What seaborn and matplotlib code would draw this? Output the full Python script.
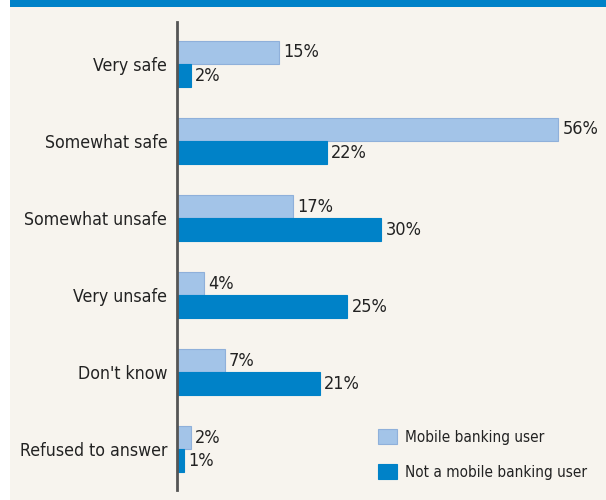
import matplotlib
matplotlib.use("Agg")
import matplotlib.pyplot as plt
from matplotlib.patches import Rectangle
import seaborn as sns
import pandas as pd

categories = ["Very safe", "Somewhat safe", "Somewhat unsafe", "Very unsafe",
              "Don't know", "Refused to answer"]
mobile_users = [15, 56, 17, 4, 7, 2]
non_users = [2, 22, 30, 25, 21, 1]
series_names = ["Mobile banking user", "Not a mobile banking user"]

df = pd.DataFrame({
    "category": categories * 2,
    "value": mobile_users + non_users,
    "series": [series_names[0]] * len(categories) + [series_names[1]] * len(categories),
})

sns.set_style("white")
plt.rcParams["font.family"] = ["DejaVu Sans"]
plt.rcParams["font.stretch"] = "condensed"

BG = "#f7f4ee"
LIGHT = "#a3c4e8"
DARK = "#0082c8"
TXT = "#222222"

fig = plt.figure(figsize=(6.06, 5.00), dpi=100)
fig.patch.set_facecolor(BG)
fig.add_artist(Rectangle((0, 1 - 7 / 500), 1, 7 / 500, transform=fig.transFigure,
                         facecolor=DARK, edgecolor="none", zorder=0))
fig.add_artist(Rectangle((0, 0), 10 / 606, 1, transform=fig.transFigure,
                         facecolor="white", edgecolor="none", zorder=1))

ax = fig.add_axes([177 / 606, 10 / 500, 1 - 177 / 606, 468 / 500])
ax.set_facecolor("none")

sns.barplot(data=df, y="category", x="value", hue="series", orient="h",
            palette=[LIGHT, DARK], saturation=1, width=0.6, ax=ax, legend=False)

for bar_container, ec in zip(ax.containers, ["#8fb0da", DARK]):
    for p in bar_container:
        p.set_edgecolor(ec)
        p.set_linewidth(0.8)
    ax.bar_label(bar_container, labels=[f"{int(v)}%" for v in bar_container.datavalues],
                 padding=3, fontsize=13, color=TXT)

ax.set_xlim(0, 63.0)
ax.set_ylim(5.53, -0.545)
ax.set_xlabel("")
ax.set_ylabel("")
ax.set_xticks([])
ax.tick_params(axis="y", length=0, pad=7, labelsize=12.7, labelcolor=TXT)
for s in ["top", "right", "bottom"]:
    ax.spines[s].set_visible(False)
ax.spines["left"].set_color("#555555")
ax.spines["left"].set_linewidth(2)

handles = [Rectangle((0, 0), 1, 1, facecolor=LIGHT, edgecolor="#8fb0da", linewidth=0.8),
           Rectangle((0, 0), 1, 1, facecolor=DARK, edgecolor=DARK, linewidth=0.8)]
fig.legend(handles, series_names, loc="upper left",
           bbox_to_anchor=(378 / 606, 1 - 429 / 500), frameon=False,
           borderpad=0, borderaxespad=0,
           fontsize=11, handlelength=1.24, handleheight=1.15, handletextpad=0.52,
           labelspacing=1.25, labelcolor=TXT)

fig.savefig("out.png", dpi=100, facecolor=BG)
